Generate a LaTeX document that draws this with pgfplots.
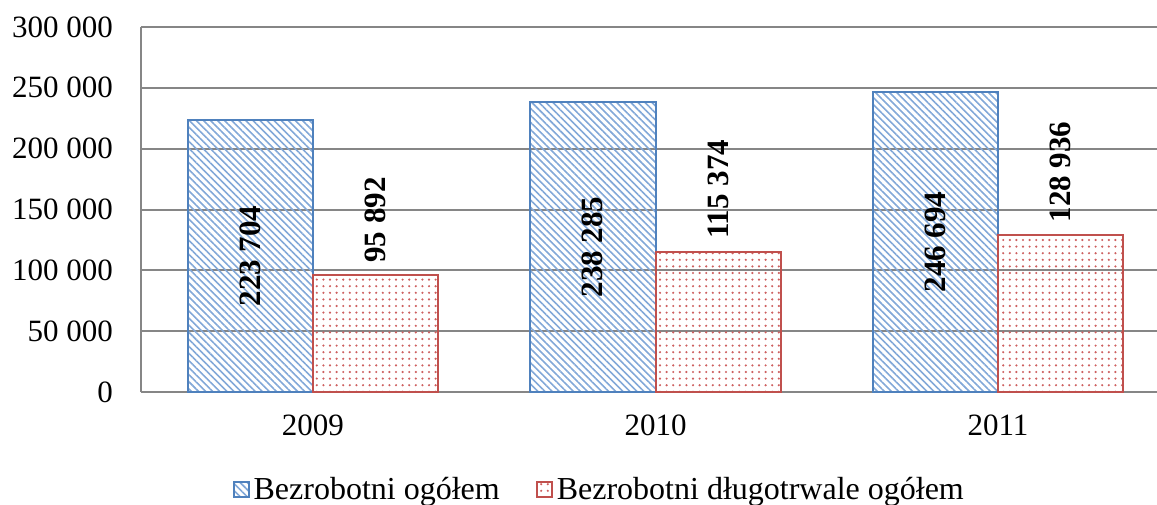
\documentclass[border=0pt]{standalone}
\usepackage{fontspec}
\setmainfont{Liberation Serif}
\usepackage{pgfplots}
\pgfplotsset{compat=1.18}
\usetikzlibrary{patterns.meta}
\definecolor{barblue}{RGB}{79,129,189}
\definecolor{stripeblue}{RGB}{130,168,216}
\definecolor{barred}{RGB}{192,80,77}
\definecolor{dotred}{RGB}{205,95,95}
\definecolor{gridgray}{RGB}{134,134,134}

\begin{document}
\begin{tikzpicture}
\begin{axis}[
  scale only axis,
  width=508pt, height=182.5pt,
  font=\fontsize{15.5}{18}\selectfont,
  /pgf/number format/assume math mode=true,
  xmin=-0.502, xmax=2.464,
  ymin=0, ymax=300000,
  xtick={0,1,2},
  xticklabels={2009,2010,2011},
  ytick={0,50000,100000,150000,200000,250000,300000},
  yticklabels={0,50 000,100 000,150 000,200 000,250 000,300 000},
  scaled y ticks=false,
  major tick length=0pt,
  xticklabel style={yshift=-8pt},
  yticklabel style={xshift=-10.5pt},
  axis x line*=bottom, axis y line*=left,
  axis line style={gridgray, line width=1pt, -},
  ymajorgrids, major grid style={gridgray, line width=1pt},
  ybar, bar width=62.7pt,
  clip=false,
  legend style={draw=none, fill=none, at={(0.452,-0.268)}, anchor=center,
    legend columns=2, font=\fontsize{16}{18}\selectfont,
    /tikz/every even column/.append style={column sep=16pt}},
  legend cell align=left,
  legend image code/.code={\draw[#1] (0pt,-3.75pt) rectangle (7.5pt,3.75pt);},
]
\addplot[bar shift=-31.35pt, draw=barblue, line width=1pt,
  pattern={Lines[angle=-45, distance=2.5pt, line width=0.8pt]},
  pattern color=stripeblue,
  point meta=explicit symbolic,
  nodes near coords,
  visualization depends on={rawy \as \rawy},
  every node near coord/.style={shift={(axis direction cs:0,-0.5*\rawy)},
    xshift=-31.35pt,
    font=\fontsize{15.5}{18}\selectfont\bfseries,
    rotate=90, anchor=center, text=black},
] coordinates {
  (0,223704) [223 704]
  (1,238285) [238 285]
  (2,246694) [246 694]
};
\addplot[bar shift=31.35pt, draw=barred, line width=1pt,
  pattern={Dots[distance=3.3pt, radius=0.6pt]},
  pattern color=dotred,
  point meta=explicit symbolic,
  nodes near coords,
  every node near coord/.style={yshift=2.5pt, xshift=31.35pt,
    font=\fontsize{15.5}{18}\selectfont\bfseries,
    rotate=90, anchor=west, text=black},
] coordinates {
  (0,95892) [95 892]
  (1,115374) [115 374]
  (2,128936) [128 936]
};
\legend{Bezrobotni ogółem, Bezrobotni długotrwale ogółem}
\coordinate (A) at (rel axis cs:0,0);
\coordinate (B) at (rel axis cs:1,1);
\end{axis}
\pgfresetboundingbox
\path ([xshift=-70.5pt,yshift=-56pt]A) rectangle ([yshift=13.5pt]B);
\end{tikzpicture}
\end{document}
